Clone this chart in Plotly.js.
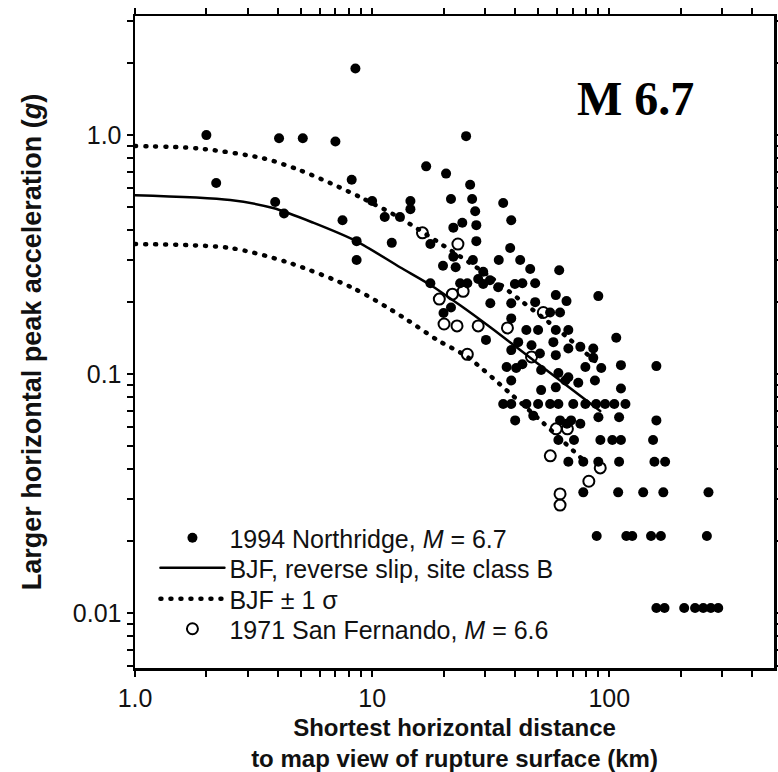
<!DOCTYPE html>
<html><head><meta charset="utf-8">
<script src="https://cdn.plot.ly/plotly-3.0.1.min.js"></script>
<style>html,body{margin:0;padding:0;background:#fff}#chart{width:778px;height:772px}
#chart path.js-line{stroke-linecap:round}</style>
</head><body><div id="chart"></div><script>
// 1994 Northridge recordings: distance (km), larger horizontal PGA (g)
const northridgeDist = [
  2.0, 2.2, 4.05, 5.1, 7.0, 8.5, 8.2, 3.9, 4.25, 7.5, 8.6, 8.6,
  24.9, 16.9, 20.5, 25.9, 21.5, 26.4, 14.5, 14.5, 10.0, 27.2, 11.3, 13.1, 24.0, 27.5, 22.0, 12.1, 17.6, 22.0, 19.9, 26.6, 29.4, 17.6, 23.5, 27.5, 22.5, 28.0, 25.2,
  35.7, 38.6, 38.2, 34.2, 42.1, 46.4, 61.5, 43.0, 48.7, 31.4,
  59.5, 89.9, 66.0, 29.4, 34.0, 40.0, 31.5, 38.6, 48.7, 56.3, 62.0, 38.6, 44.7, 50.1, 59.5, 67.2, 107, 30.2, 41.3, 47.0, 58.1, 67.2, 75.5, 85.6, 38.6, 51.0, 59.5, 85.6, 112, 36.9, 40.5, 51.6, 61.0, 67.2, 79.3, 92.5, 38.6, 51.6, 59.5, 65.3, 74.0, 87.0, 112, 43.0, 158, 20.0, 21.5,
  35.7, 38.6, 44.7, 50.1, 56.3, 61.0, 70.5, 79.3, 88.0, 96.0, 105, 117,
  40.1, 47.8, 62.0, 66.3, 69.0, 75.5, 90.0, 110, 158,
  61.0, 71.0, 91.7, 103, 112, 153,
  67.2, 77.7, 89.9, 110, 155, 172,
  77.7, 109, 139, 169, 262,
  88.5, 118, 125, 150, 165, 258,
  158, 171, 207, 230, 249, 268, 288
];
const northridgePga = [
  1.0, 0.63, 0.97, 0.97, 0.94, 1.9, 0.65, 0.525, 0.47, 0.44, 0.36, 0.30,
  0.99, 0.74, 0.69, 0.62, 0.54, 0.54, 0.53, 0.49, 0.53, 0.48, 0.454, 0.454, 0.43, 0.42, 0.41, 0.354, 0.35, 0.31, 0.284, 0.30, 0.268, 0.24, 0.24, 0.36, 0.28, 0.25, 0.24,
  0.52, 0.44, 0.337, 0.30, 0.30, 0.275, 0.272, 0.24, 0.24, 0.247,
  0.214, 0.212, 0.202, 0.238, 0.231, 0.238, 0.198, 0.198, 0.200, 0.181, 0.181, 0.171, 0.153, 0.153, 0.153, 0.153, 0.142, 0.139, 0.136, 0.132, 0.136, 0.128, 0.130, 0.128, 0.126, 0.122, 0.120, 0.117, 0.109, 0.107, 0.106, 0.104, 0.101, 0.097, 0.107, 0.106, 0.094, 0.0857, 0.088, 0.094, 0.092, 0.094, 0.087, 0.110, 0.108, 0.18, 0.19,
  0.075, 0.075, 0.075, 0.075, 0.075, 0.075, 0.075, 0.075, 0.075, 0.075, 0.075, 0.075,
  0.064, 0.067, 0.064, 0.062, 0.064, 0.062, 0.066, 0.066, 0.064,
  0.053, 0.053, 0.053, 0.053, 0.053, 0.053,
  0.043, 0.043, 0.043, 0.043, 0.043, 0.043,
  0.032, 0.032, 0.032, 0.032, 0.032,
  0.021, 0.021, 0.021, 0.021, 0.021, 0.021,
  0.0105, 0.0105, 0.0105, 0.0105, 0.0105, 0.0105, 0.0105
];
// 1971 San Fernando recordings
const sanFernandoDist = [16.3, 23.0, 19.2, 21.8, 24.2, 20.1, 22.8, 28.0, 37.2, 25.2, 52.7, 47.0, 59.7, 66.6, 56.4, 91.6, 82.0, 62.0, 62.0];
const sanFernandoPga  = [0.39, 0.35, 0.206, 0.216, 0.222, 0.162, 0.159, 0.159, 0.156, 0.121, 0.181, 0.118, 0.059, 0.059, 0.0455, 0.0405, 0.0356, 0.0315, 0.0283];
// BJF curves
const bjfDist   = [1, 2.52, 3.82, 5.64, 8.56, 13.1, 17.6, 23.5, 31.5, 42.1, 56.4, 91.6];
const bjfPga    = [0.56, 0.535, 0.495, 0.43, 0.36, 0.28, 0.236, 0.194, 0.157, 0.126, 0.101, 0.070];
const upperDist = [1, 1.83, 3.47, 4.83, 6.65, 8.9, 13.1, 22.0, 31.5, 42.1, 61.0, 94.3];
const upperPga  = [0.90, 0.88, 0.80, 0.72, 0.63, 0.55, 0.45, 0.324, 0.255, 0.204, 0.153, 0.106];
const lowerDist = [1, 2.52, 4.38, 8.31, 13.5, 18.8, 25.2, 38.2, 52.7, 79];
const lowerPga  = [0.35, 0.337, 0.294, 0.229, 0.173, 0.139, 0.118, 0.083, 0.0624, 0.043];
// tick labels
const xTickVals = [1,2,3,4,5,6,7,8,9,10,20,30,40,50,60,70,80,90,100,200,300,400,500];
const xTickText = xTickVals.map(v => v === 1 ? '1.0' : (v === 10 ? '10' : (v === 100 ? '100' : '')));
const yTickVals = [0.006,0.007,0.008,0.009,0.01,0.02,0.03,0.04,0.05,0.06,0.07,0.08,0.09,0.1,0.2,0.3,0.4,0.5,0.6,0.7,0.8,0.9,1,2,3];
const yTickText = yTickVals.map(v => v === 1 ? '1.0' : (v === 0.1 ? '0.1' : (v === 0.01 ? '0.01' : '')));

const FONT = 'Liberation Sans, Arial, sans-serif';
const dotDash = '1px,9px';

const traces = [
  {x: northridgeDist, y: northridgePga, type: 'scatter', mode: 'markers', name: '1994 Northridge, <i>M</i> = 6.7',
   legend: 'legend', marker: {color: '#000', size: 10, line: {width: 0}}},
  {x: bjfDist, y: bjfPga, type: 'scatter', mode: 'lines', name: 'BJF, reverse slip, site class B',
   legend: 'legend2', line: {color: '#000', width: 2.5, shape: 'spline', smoothing: 0.8}},
  {x: upperDist, y: upperPga, type: 'scatter', mode: 'lines', name: 'BJF ± 1 σ',
   legend: 'legend3', line: {color: '#000', width: 4.5, dash: dotDash, shape: 'spline', smoothing: 0.8}},
  {x: lowerDist, y: lowerPga, type: 'scatter', mode: 'lines', name: 'BJF - 1 σ', showlegend: false,
   line: {color: '#000', width: 4.5, dash: dotDash, shape: 'spline', smoothing: 0.8}},
  {x: sanFernandoDist, y: sanFernandoPga, type: 'scatter', mode: 'markers', name: '1971 San Fernando, <i>M</i> = 6.6',
   legend: 'legend4', marker: {color: '#000', size: 11, symbol: 'circle-open', line: {color: '#000', width: 2}}}
];

const axisCommon = {
  type: 'log', showline: true, linecolor: '#000', linewidth: 2.5, mirror: 'ticks',
  ticks: 'outside', ticklen: 6, tickwidth: 2, tickcolor: '#000', showgrid: false, zeroline: false,
  tickfont: {family: FONT, size: 25, color: '#111'}, tickmode: 'array'
};

const PLOT_TOP = 16, PLOT_BOTTOM = 668;
const rowY = py => (PLOT_BOTTOM - py) / (PLOT_BOTTOM - PLOT_TOP);
const legendBase = {x: 0.032, xanchor: 'left', yanchor: 'middle', bgcolor: 'rgba(0,0,0,0)', borderwidth: 0,
  font: {family: FONT, size: 25, color: '#111'}, itemwidth: 64};

const layout = {
  width: 778, height: 772,
  margin: {l: 135, r: 4, t: PLOT_TOP, b: 772 - PLOT_BOTTOM},
  paper_bgcolor: '#fff', plot_bgcolor: '#fff',
  showlegend: true,
  legend:  Object.assign({}, legendBase, {y: rowY(538)}),
  legend2: Object.assign({}, legendBase, {y: rowY(568)}),
  legend3: Object.assign({}, legendBase, {y: rowY(599)}),
  legend4: Object.assign({}, legendBase, {y: rowY(629)}),
  xaxis: Object.assign({}, axisCommon, {
    range: [0, Math.log10(495)], tickvals: xTickVals, ticktext: xTickText,
    title: {text: '<b>Shortest horizontal distance<br>to map view of rupture surface (km)</b>', font: {family: FONT, size: 24, color: '#111'}, standoff: 14}
  }),
  yaxis: Object.assign({}, axisCommon, {
    range: [Math.log10(0.00589), Math.log10(3.15)], tickvals: yTickVals, ticktext: yTickText,
    title: {text: '<b>Larger horizontal peak acceleration (<i>g</i>)</b>', font: {family: FONT, size: 27, color: '#111'}, standoff: 24}
  }),
  annotations: [{
    text: '<b>M 6.7</b>', xref: 'paper', yref: 'paper', x: 0.784, y: rowY(98), xanchor: 'center', yanchor: 'middle', showarrow: false,
    font: {family: 'Liberation Serif, Times New Roman, serif', size: 48, color: '#000'}
  }]
};

Plotly.newPlot('chart', traces, layout, {displayModeBar: false, staticPlot: true});
</script></body></html>
